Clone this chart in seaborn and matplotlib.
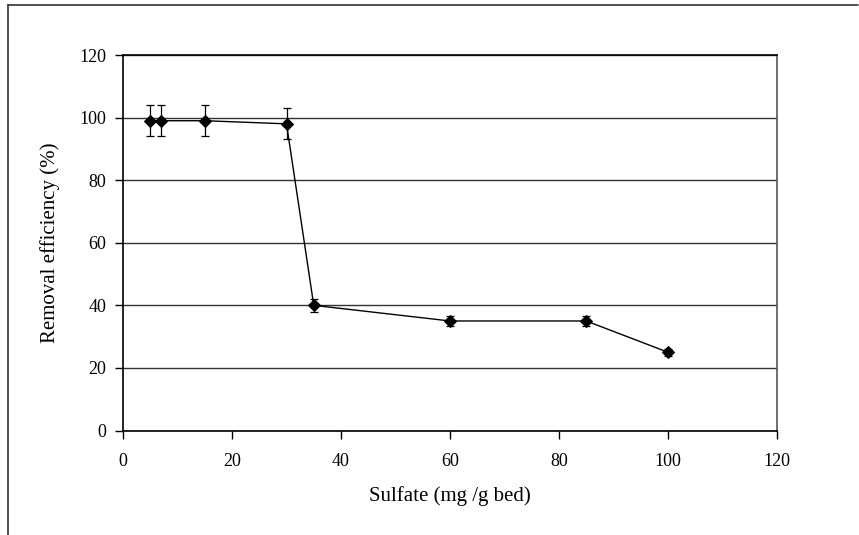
import pandas as pd
import matplotlib
matplotlib.use("Agg")
import matplotlib.pyplot as plt
import seaborn as sns
from matplotlib.lines import Line2D

# Dane
sulfate = [5, 7, 15, 30, 35, 60, 85, 100]
removal = [99, 99, 99, 98, 40, 35, 35, 25]
error = [5, 5, 5, 5, 2, 1.6, 1.6, 1.1]

df = pd.DataFrame({"Sulfate": sulfate, "Removal": removal, "Err": error})

sns.set_theme(style="white")
plt.rcParams['font.family'] = ['Liberation Serif', 'DejaVu Serif']

fig = plt.figure(figsize=(8.59, 5.35), dpi=100)
ax = fig.add_axes([123 / 859, 1 - 430.5 / 535, (777 - 123) / 859, (430.5 - 55) / 535])

ax.errorbar(df["Sulfate"], df["Removal"], yerr=df["Err"], fmt='none',
            ecolor='black', elinewidth=0.9, capsize=3, capthick=0.9, zorder=3)
sns.lineplot(data=df, x="Sulfate", y="Removal", ax=ax, color='black', linewidth=1,
             marker='D', markersize=6.5, markeredgecolor='black', markerfacecolor='black', zorder=4)

ax.set_xlim(0, 120)
ax.set_ylim(0, 120)
ax.set_xticks(range(0, 121, 20))
ax.set_yticks(range(0, 121, 20))
ax.yaxis.grid(True, color='#333333', linewidth=1)
ax.set_axisbelow(True)
for s in ax.spines.values():
    s.set_color('black')
    s.set_linewidth(1.2)
ax.spines['right'].set_color('#555555')
ax.tick_params(axis='both', direction='out', length=6, width=1, color='black',
               labelsize=13, labelcolor='black', bottom=True, left=True)
ax.tick_params(axis='x', pad=10)
ax.tick_params(axis='y', pad=6)
ax.set_xlabel("Sulfate (mg /g bed)", fontsize=15, color='black', labelpad=12)
ax.set_ylabel("Removal efficiency (%)", fontsize=15, color='black', labelpad=14)

# Ramka wokół wykresu (góra i lewa strona)
fig.add_artist(Line2D([8 / 859, 858 / 859], [1 - 5 / 535, 1 - 5 / 535], color='#333333', linewidth=1.2))
fig.add_artist(Line2D([8 / 859, 8 / 859], [1 - 5 / 535, 0], color='#333333', linewidth=1.2))

fig.savefig("out.png", dpi=100)
